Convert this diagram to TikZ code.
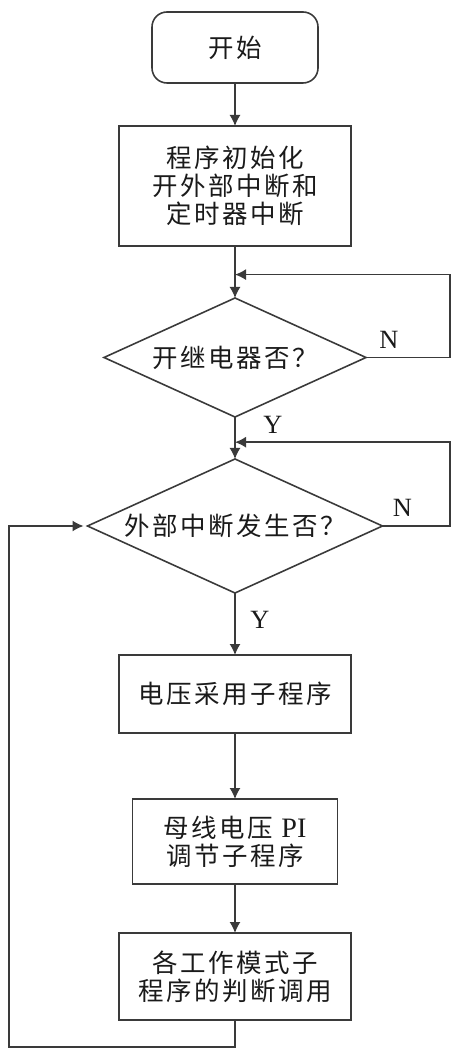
\documentclass[tikz,border=0pt]{standalone}
\usepackage{fontspec}
\setmainfont{Liberation Serif}
\newfontfamily\cjk[LetterSpace=10]{Noto Sans CJK SC}
\usetikzlibrary{positioning,shapes.geometric,arrows.meta,calc}
\definecolor{FlowLine}{HTML}{3A3A3A}
\definecolor{FlowText}{HTML}{1A1A1A}

\begin{document}
\begin{tikzpicture}[every node/.style={align=center, inner sep=2pt, outer sep=0pt, text=FlowText, font=\cjk\fontsize{14.5}{16}\selectfont},
  startbox/.style={draw=FlowLine, line width=0.9pt, rounded corners=0.3cm, minimum width=3.32cm, minimum height=1.42cm},
  procbox/.style={draw=FlowLine, line width=0.9pt},
  decision/.style={draw=FlowLine, line width=0.9pt, diamond, aspect=2.2, inner sep=1pt},
  flow/.style={-{Latex[length=2.2mm,width=2.2mm]}, draw=FlowLine, line width=0.8pt},
  yn/.style={font=\fontsize{15}{15}\selectfont}]
  \useasboundingbox (0,0) rectangle (9.18,-21.2);
  \node[startbox] (start) at (4.7,-0.95) {开始};
  \node[procbox, below=0.86cm of start, minimum width=4.64cm, minimum height=2.4cm] (init) {程序初始化\\开外部中断和\\定时器中断};
  \node[decision, below=1.04cm of init, minimum width=5.24cm, minimum height=2.38cm] (relay) {开继电器否？};
  \node[decision, below=0.84cm of relay, minimum width=5.9cm, minimum height=2.68cm] (irq) {外部中断发生否？};
  \node[procbox, below=1.24cm of irq, minimum width=4.64cm, minimum height=1.56cm] (sample) {电压采用子程序};
  \node[procbox, below=1.32cm of sample, minimum width=4.1cm, minimum height=1.7cm] (pi) {母线电压 {\rmfamily\fontsize{16}{16}\selectfont PI}\\调节子程序};
  \node[procbox, below=0.98cm of pi, minimum width=4.64cm, minimum height=1.74cm] (mode) {各工作模式子\\程序的判断调用};
  % turning points of the loops
  \coordinate (rightx) at (9.0,0);
  \coordinate (leftx) at (0.18,0);
  \coordinate (relayin) at ($(init.south)!0.55!(relay.north)$);
  \coordinate (irqin) at ($(relay.south)!0.6!(irq.north)$);
  \coordinate (backy) at ($(mode.south)+(0,-0.54)$);
  \draw[flow] (start) -- (init);
  \draw[flow] (init) -- (relay);
  \draw[flow] (relay.east) -- (relay.east -| rightx) -- (relayin -| rightx) -- (relayin);
  \draw[flow] (relay) -- (irq);
  \draw[flow] (irq.east) -- (irq.east -| rightx) -- (irqin -| rightx) -- (irqin);
  \draw[flow] (irq) -- (sample);
  \draw[flow] (sample) -- (pi);
  \draw[flow] (pi) -- (mode);
  \draw[flow] (mode.south) -- (backy) -- (backy -| leftx) -- (irq.west -| leftx) -- ($(irq.west)+(-0.08,0)$);
  % branch labels
  \node[yn] (relayN) at ($(relay.east)+(0.46,0.36)$) {N};
  \node[yn] (relayY) at ($(relay.south)+(0.76,-0.16)$) {Y};
  \node[yn] (irqN) at ($(irq.east)+(0.40,0.36)$) {N};
  \node[yn] (irqY) at ($(irq.south)+(0.5,-0.54)$) {Y};
\end{tikzpicture}
\end{document}
